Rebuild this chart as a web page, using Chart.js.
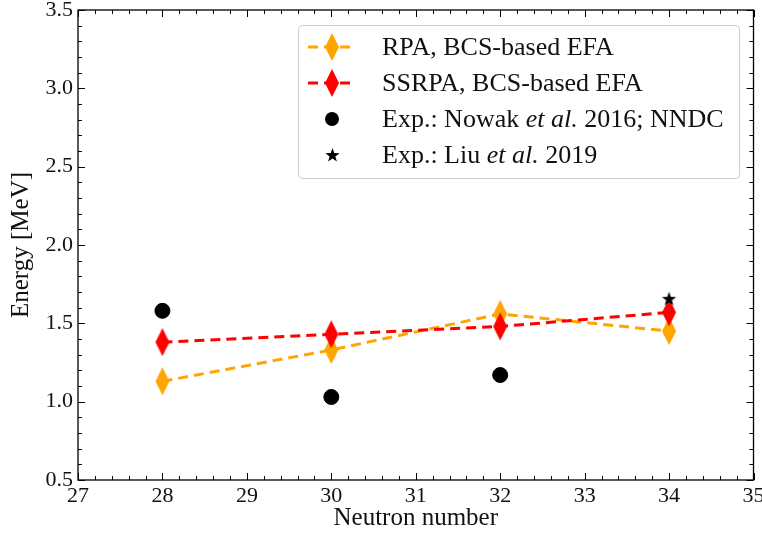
<!DOCTYPE html>
<html>
<head>
<meta charset="utf-8">
<script src="https://cdn.jsdelivr.net/npm/chart.js@4"></script>
<style>
  html, body { margin: 0; padding: 0; background: #fff; }
  #wrap { width: 762px; height: 535px; }
</style>
</head>
<body>
<div id="wrap"><canvas id="energyChart" width="762" height="535"></canvas></div>
<script>
const neutronNumbers = [28, 30, 32, 34];
const rpaEnergies = [1.13, 1.33, 1.56, 1.45];
const ssrpaEnergies = [1.38, 1.43, 1.48, 1.57];
const nowakNumbers = [28, 30, 32];
const nowakEnergies = [1.58, 1.03, 1.17];
const liuNumbers = [34];
const liuEnergies = [1.66];

const xTicks = [27, 28, 29, 30, 31, 32, 33, 34, 35];
const yTicks = [0.5, 1.0, 1.5, 2.0, 2.5, 3.0, 3.5];

const FONT = "'Liberation Serif', 'DejaVu Serif', serif";
const INK = '#111';

// marker images for point styles
function diamondMarker(color) {
    const c = document.createElement('canvas');
    c.width = 16; c.height = 28;
    const g = c.getContext('2d');
    g.fillStyle = color;
    g.beginPath();
    g.moveTo(8, 0); g.lineTo(15, 14); g.lineTo(8, 28); g.lineTo(1, 14);
    g.closePath();
    g.fill();
    return c;
}

function starMarker(r) {
    const c = document.createElement('canvas');
    c.width = 2 * r + 2; c.height = 2 * r + 2;
    const g = c.getContext('2d');
    g.fillStyle = '#000';
    g.beginPath();
    for (let i = 0; i < 10; i++) {
        const rad = i % 2 === 0 ? r : r * 0.4;
        const a = -Math.PI / 2 + i * Math.PI / 5;
        g.lineTo(r + 1 + rad * Math.cos(a), r + 1 + rad * Math.sin(a) + 1);
    }
    g.closePath();
    g.fill();
    return c;
}

const orangeDiamond = diamondMarker('#FFA500');
const redDiamond = diamondMarker('#FF0000');
const blackStar = starMarker(7.5);

function toPoints(xs, ys) {
    return xs.map((x, i) => ({ x: x, y: ys[i] }));
}

// inward major/minor ticks on all four sides
const insideTicks = {
    id: 'insideTicks',
    afterDraw(chart) {
        const ctx = chart.ctx;
        const a = chart.chartArea;
        const xs = chart.scales.x, ys = chart.scales.y;
        ctx.save();
        ctx.strokeStyle = '#000';
        ctx.lineWidth = 1;
        ctx.beginPath();
        for (let v = 27; v <= 35.001; v += 0.2) {
            const px = Math.round(xs.getPixelForValue(v)) + 0.5;
            const major = Math.abs(v - Math.round(v)) < 1e-6;
            const len = major ? 7 : 4;
            ctx.moveTo(px, a.bottom); ctx.lineTo(px, a.bottom - len);
            ctx.moveTo(px, a.top); ctx.lineTo(px, a.top + len);
        }
        for (let v = 0.5; v <= 3.5001; v += 0.1) {
            const py = Math.round(ys.getPixelForValue(v)) + 0.5;
            const major = Math.abs(v * 2 - Math.round(v * 2)) < 1e-6;
            const len = major ? 7 : 4;
            ctx.moveTo(a.left, py); ctx.lineTo(a.left + len, py);
            ctx.moveTo(a.right, py); ctx.lineTo(a.right - len, py);
        }
        ctx.stroke();
        ctx.lineWidth = 1.3;
        ctx.strokeRect(a.left, a.top, a.right - a.left, a.bottom - a.top);
        ctx.restore();
    }
};

// legend with italic "et al." parts
const legendBox = {
    id: 'legendBox',
    afterDraw(chart) {
        const ctx = chart.ctx;
        const bx = 298, by = 25, bw = 441, bh = 153;
        ctx.save();
        ctx.fillStyle = 'rgba(255,255,255,0.8)';
        ctx.strokeStyle = '#cccccc';
        ctx.lineWidth = 1;
        ctx.beginPath();
        ctx.roundRect(bx + 0.5, by + 0.5, bw, bh, 4);
        ctx.fill();
        ctx.stroke();

        const rows = [
            { type: 'line', color: '#FFA500', img: orangeDiamond, parts: [['RPA, BCS-based EFA', false]] },
            { type: 'line', color: '#FF0000', img: redDiamond, parts: [['SSRPA, BCS-based EFA', false]] },
            { type: 'dot', parts: [['Exp.: Nowak ', false], ['et al.', true], [' 2016; NNDC', false]] },
            { type: 'star', parts: [['Exp.: Liu ', false], ['et al.', true], [' 2019', false]] }
        ];
        const rowY = [47, 83, 119, 155];
        const hx = 332;
        rows.forEach((r, i) => {
            const y = rowY[i];
            if (r.type === 'line') {
                ctx.strokeStyle = r.color;
                ctx.lineWidth = 3;
                ctx.setLineDash([10, 6]);
                ctx.beginPath();
                ctx.moveTo(308, y); ctx.lineTo(356, y);
                ctx.stroke();
                ctx.setLineDash([]);
                ctx.drawImage(r.img, hx - 8, y - 14);
            } else if (r.type === 'dot') {
                ctx.fillStyle = '#000';
                ctx.beginPath();
                ctx.arc(hx, y, 7, 0, Math.PI * 2);
                ctx.fill();
            } else {
                ctx.drawImage(blackStar, hx - 8, y - 9);
            }
            let tx = 382;
            ctx.fillStyle = INK;
            ctx.textBaseline = 'middle';
            r.parts.forEach(([txt, italic]) => {
                ctx.font = (italic ? 'italic ' : '') + '26px ' + FONT;
                ctx.fillText(txt, tx, y + 1);
                tx += ctx.measureText(txt).width;
            });
        });
        ctx.restore();
    }
};

const ctx = document.getElementById('energyChart').getContext('2d');
const chart = new Chart(ctx, {
    type: 'scatter',
    data: {
        datasets: [
            {
                label: 'RPA, BCS-based EFA',
                data: toPoints(neutronNumbers, rpaEnergies),
                showLine: true,
                borderColor: '#FFA500',
                borderWidth: 3,
                borderDash: [10, 6],
                pointStyle: orangeDiamond,
                order: 2
            },
            {
                label: 'SSRPA, BCS-based EFA',
                data: toPoints(neutronNumbers, ssrpaEnergies),
                showLine: true,
                borderColor: '#FF0000',
                borderWidth: 3,
                borderDash: [10, 6],
                pointStyle: redDiamond,
                order: 1
            },
            {
                label: 'Exp.: Nowak et al. 2016; NNDC',
                data: toPoints(nowakNumbers, nowakEnergies),
                pointStyle: 'circle',
                pointRadius: 7.5,
                backgroundColor: '#000',
                borderColor: '#000',
                order: 0
            },
            {
                label: 'Exp.: Liu et al. 2019',
                data: toPoints(liuNumbers, liuEnergies),
                pointStyle: blackStar,
                order: 0
            }
        ]
    },
    options: {
        responsive: false,
        animation: false,
        layout: { padding: { left: 0, right: 8, top: 10, bottom: 0 } },
        plugins: {
            legend: { display: false },
            tooltip: { enabled: false }
        },
        scales: {
            x: {
                type: 'linear',
                min: 27,
                max: 35,
                afterBuildTicks: (s) => { s.ticks = xTicks.map(v => ({ value: v })); },
                afterFit: (s) => { s.height = 55; s.paddingLeft = 0; s.paddingRight = 0; },
                grid: { display: false, drawTicks: false },
                border: { display: false },
                ticks: {
                    color: INK,
                    padding: 3,
                    maxRotation: 0,
                    autoSkip: false,
                    font: { family: FONT, size: 22 },
                    callback: (v) => String(v)
                },
                title: {
                    display: true,
                    text: 'Neutron number',
                    color: INK,
                    padding: { top: 0, bottom: 2 },
                    font: { family: FONT, size: 25 }
                }
            },
            y: {
                type: 'linear',
                min: 0.5,
                max: 3.5,
                afterBuildTicks: (s) => { s.ticks = yTicks.map(v => ({ value: v })); },
                afterFit: (s) => { s.width = 78; s.paddingTop = 0; s.paddingBottom = 0; },
                grid: { display: false, drawTicks: false },
                border: { display: false },
                ticks: {
                    color: INK,
                    padding: 5,
                    autoSkip: false,
                    font: { family: FONT, size: 22 },
                    callback: (v) => v.toFixed(1)
                },
                title: {
                    display: true,
                    text: 'Energy [MeV]',
                    color: INK,
                    padding: { top: 6, bottom: 0 },
                    font: { family: FONT, size: 25 }
                }
            }
        }
    },
    plugins: [insideTicks, legendBox]
});
</script>
</body>
</html>
